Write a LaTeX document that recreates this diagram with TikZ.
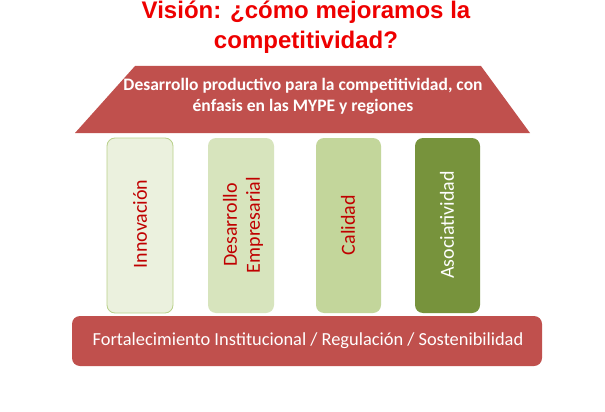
\documentclass[tikz,border=0pt]{standalone}
\usepackage{fontspec}
\setmainfont{Carlito}
\newfontfamily\titlefont{Liberation Sans}
\definecolor{roofred}{HTML}{C0504D}
\definecolor{titlered}{HTML}{EE0000}
\definecolor{txtred}{HTML}{C00000}
\definecolor{gA}{HTML}{EBF1DE}
\definecolor{gAb}{HTML}{B9D08A}
\definecolor{gB}{HTML}{D7E4BD}
\definecolor{gC}{HTML}{C3D69B}
\definecolor{gD}{HTML}{77933C}
\begin{document}
\begin{tikzpicture}[x=1pt,y=-1pt,
  pillar/.style={rounded corners=8pt,line width=0.8pt},
  pillartext/.style={rotate=90,align=center,font=\fontsize{20}{23}\selectfont}]
\useasboundingbox (0,0) rectangle (605,412);
\fill[white] (0,0) rectangle (605,412);
% title
\node[font=\titlefont\bfseries\fontsize{24}{30}\selectfont,text=titlered,align=center] (title) at (306,27)
  {Visión: ¿cómo mejoramos la\\competitividad?};
% roof
\fill[roofred] (135,66) coordinate (rtl) -- (481,66) coordinate (rtr) -- (530,133) coordinate (rbr) -- (75,133) coordinate (rbl) -- cycle;
\node[font=\bfseries\fontsize{17.5}{21}\selectfont,text=white,align=center] (roof) at (303,96)
  {Desarrollo productivo para la competitividad, con\\énfasis en las MYPE y regiones};
% pillars
\draw[pillar,fill=gA,draw=gAb] (107,138) rectangle (173,313);
\node[pillartext,text=txtred] (p1) at (140,224) {Innovación};
\fill[pillar,fill=gB] (208,138) rectangle (274,313);
\node[pillartext,text=txtred] (p2) at (243,225) {Desarrollo\\Empresarial};
\fill[pillar,fill=gC] (316,138) rectangle (381,313);
\node[pillartext,text=txtred] (p3) at (348,225) {Calidad};
\fill[pillar,fill=gD] (415,138) rectangle (480,313);
\node[pillartext,text=white] (p4) at (447,225) {Asociatividad};
% base
\fill[roofred,rounded corners=8pt] (72,316) rectangle (542,366);
\node[font=\fontsize{18.4}{21}\selectfont,text=white] (base) at (308,341)
  {Fortalecimiento Institucional / Regulación / Sostenibilidad};
\end{tikzpicture}
\end{document}
